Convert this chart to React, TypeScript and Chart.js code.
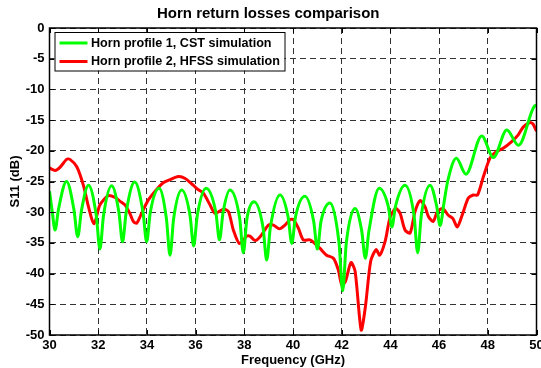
import React, { useEffect, useRef } from "react";
import { Chart, registerables } from "chart.js";

Chart.register(...registerables);

const TITLE = "Horn return losses comparison";
const X_LABEL = "Frequency (GHz)";
const Y_LABEL = "S11 (dB)";
const SERIES_NAMES = ["Horn profile 1, CST simulation", "Horn profile 2, HFSS simulation"];
const SERIES_COLORS = ["#00ff00", "#ff0000"];

const greenFreq = [
  30.0, 30.1, 30.23, 30.37, 30.7, 31.0, 31.16, 31.31, 31.6, 31.92, 32.07, 32.22, 32.55,
  32.85, 33.0, 33.15, 33.5, 33.84, 33.99, 34.14, 34.5, 34.8, 34.95, 35.1, 35.43, 35.77,
  35.92, 36.07, 36.43, 36.83, 36.98, 37.13, 37.41, 37.81, 37.96, 38.11, 38.4, 38.77,
  38.92, 39.07, 39.47, 39.8, 39.95, 40.1, 40.49, 40.85, 41.0, 41.15, 41.52, 41.89, 42.04,
  42.19, 42.55, 42.82, 42.97, 43.12, 43.54, 43.91, 44.06, 44.21, 44.6, 44.97, 45.12,
  45.27, 45.63, 45.9, 46.04, 46.2, 46.35, 46.71, 47.1, 47.75, 48.23, 48.78, 49.26, 49.9, 50.0,
];
const greenS11 = [
  -26.6, -29.5, -32.9, -29.5, -25.0, -29.5, -34.0, -29.8, -25.6, -30.5, -36.0, -30.5, -25.7,
  -30.0, -34.8, -30.0, -25.1, -30.0, -34.8, -30.0, -26.1, -31.0, -37.0, -31.0, -26.4, -30.5,
  -35.5, -30.5, -26.1, -30.0, -34.5, -30.0, -26.4, -31.0, -36.6, -31.0, -28.3, -32.5,
  -37.8, -32.5, -27.2, -30.8, -35.1, -30.8, -27.4, -31.5, -36.0, -31.5, -28.5, -35.0, -42.8,
  -35.0, -29.4, -33.0, -37.5, -33.0, -26.1, -29.0, -32.4, -29.0, -25.6, -30.5, -36.6,
  -30.5, -25.6, -29.0, -32.2, -28.5, -25.0, -21.2, -23.8, -17.6, -21.1, -16.6, -19.1, -12.8, -12.6,
];

const redFreq = [
  30.0, 30.23, 30.43, 30.7, 30.84, 31.12, 31.39, 31.6, 31.83, 32.07, 32.42, 32.69, 32.89,
  33.1, 33.3, 33.44, 33.58, 33.78, 34.06, 34.4, 34.67, 34.95, 35.29, 35.57, 35.9, 36.1,
  36.32, 36.59, 36.8, 37.14, 37.35, 37.55, 37.8, 38.1, 38.23, 38.44, 38.65, 38.99, 39.2,
  39.44, 39.67, 39.88, 40.01, 40.22, 40.42, 40.7, 40.9, 41.11, 41.38, 41.66, 41.86, 42.0,
  42.15, 42.38, 42.55, 42.8, 42.97, 43.19, 43.41, 43.56, 43.78, 43.99, 44.22, 44.4, 44.6,
  44.81, 45.01, 45.22, 45.42, 45.56, 45.76, 45.93, 46.15, 46.38, 46.56, 46.75, 46.97, 47.2,
  47.4, 47.58, 47.82, 48.09, 48.36, 48.63, 48.98, 49.25, 49.46, 49.73, 49.85, 50.0,
];
const redS11 = [
  -22.8, -23.2, -22.7, -21.4, -21.4, -22.6, -25.6, -29.1, -31.9, -28.8, -27.3, -27.6, -28.2,
  -28.8, -30.2, -31.5, -31.8, -30.2, -28.0, -26.3, -25.2, -24.7, -24.2, -24.5, -25.6, -26.3,
  -26.9, -28.8, -30.2, -29.5, -29.9, -32.9, -35.1, -33.9, -33.9, -34.6, -34.0, -32.1, -32.1,
  -32.7, -32.1, -31.2, -31.2, -32.6, -34.5, -34.5, -35.1, -35.9, -37.0, -37.5, -39.4, -41.8,
  -41.3, -38.2, -39.6, -49.2, -45.5, -38.0, -36.1, -37.0, -34.8, -30.8, -29.4, -30.2, -32.9,
  -33.4, -29.9, -28.1, -29.1, -30.7, -31.5, -29.9, -29.4, -30.5, -31.0, -32.4, -30.2, -27.7,
  -27.2, -27.2, -24.2, -21.2, -20.1, -19.6, -18.5, -17.4, -16.1, -15.4, -15.6, -16.8,
];

const X_MIN = 30;
const X_MAX = 50;
const X_STEP = 2;
const Y_MIN = -50;
const Y_MAX = 0;
const Y_STEP = 5;

const FONT = '"Liberation Sans", Arial, Helvetica, sans-serif';

const decorPlugin = {
  id: "decor",
  afterDatasetsDraw(chart: any) {
    const { ctx, chartArea: a, scales } = chart;
    const xs = scales.x;
    const ys = scales.y;
    ctx.save();
    ctx.setLineDash([]);
    ctx.strokeStyle = "#000";
    ctx.lineWidth = 1;
    ctx.beginPath();
    xs.ticks.forEach((t: any) => {
      const px = Math.round(xs.getPixelForValue(t.value)) + 0.5;
      ctx.moveTo(px, a.bottom);
      ctx.lineTo(px, a.bottom - 5);
      ctx.moveTo(px, a.top);
      ctx.lineTo(px, a.top + 5);
    });
    ys.ticks.forEach((t: any) => {
      const py = Math.round(ys.getPixelForValue(t.value)) + 0.5;
      ctx.moveTo(a.left, py);
      ctx.lineTo(a.left + 5, py);
      ctx.moveTo(a.right, py);
      ctx.lineTo(a.right - 5, py);
    });
    ctx.stroke();
    ctx.lineWidth = 1.5;
    ctx.strokeRect(a.left, a.top, a.right - a.left, a.bottom - a.top);

    // legend box inside the plot, top-left
    const bx = a.left + 5;
    const by = a.top + 4;
    const bw = 230;
    const bh = 38.5;
    ctx.fillStyle = "#fff";
    ctx.fillRect(bx, by, bw, bh);
    ctx.lineWidth = 1;
    ctx.strokeRect(bx + 0.5, by + 0.5, bw, bh);
    ctx.font = `bold 12.6px ${FONT}`;
    ctx.textBaseline = "middle";
    ctx.textAlign = "left";
    chart.data.datasets.forEach((ds: any, i: number) => {
      const ly = by + 11 + i * 18.5;
      ctx.strokeStyle = ds.borderColor;
      ctx.lineWidth = 3;
      ctx.beginPath();
      ctx.moveTo(bx + 5, ly);
      ctx.lineTo(bx + 33, ly);
      ctx.stroke();
      ctx.fillStyle = "#000";
      ctx.fillText(ds.label, bx + 36.5, ly + 0.5);
    });
    ctx.restore();
  },
};

export default function App() {
  const canvasRef = useRef<HTMLCanvasElement | null>(null);

  useEffect(() => {
    const canvas = canvasRef.current;
    if (!canvas) return;
    const green = greenFreq.map((f, i) => ({ x: f, y: greenS11[i] }));
    const red = redFreq.map((f, i) => ({ x: f, y: redS11[i] }));
    const gridOpts = {
      color: "#333",
      lineWidth: 1,
      drawTicks: false,
      borderDash: [6, 4],
    };
    const chart = new Chart(canvas, {
      type: "line",
      data: {
        datasets: [
          {
            label: SERIES_NAMES[0],
            data: green,
            borderColor: SERIES_COLORS[0],
            backgroundColor: SERIES_COLORS[0],
            borderWidth: 3,
            pointRadius: 0,
            cubicInterpolationMode: "monotone",
            fill: false,
          },
          {
            label: SERIES_NAMES[1],
            data: red,
            borderColor: SERIES_COLORS[1],
            backgroundColor: SERIES_COLORS[1],
            borderWidth: 3,
            pointRadius: 0,
            tension: 0.25,
            fill: false,
          },
        ],
      },
      options: {
        responsive: false,
        animation: false,
        events: [],
        layout: { padding: { left: 0, right: 4.5, top: 0, bottom: 0 } },
        plugins: {
          legend: { display: false },
          tooltip: { enabled: false },
          title: {
            display: true,
            text: TITLE,
            color: "#000",
            font: { family: FONT, size: 15, weight: "bold" },
            padding: { top: 5, bottom: 5 },
          },
        },
        scales: {
          x: {
            type: "linear",
            min: X_MIN,
            max: X_MAX,
            grid: gridOpts,
            border: { display: false, dash: [6, 4] },
            ticks: {
              stepSize: X_STEP,
              color: "#000",
              padding: 3,
              maxRotation: 0,
              font: { family: FONT, size: 13, weight: "bold" },
            },
            title: {
              display: true,
              text: X_LABEL,
              color: "#000",
              font: { family: FONT, size: 13, weight: "bold" },
              padding: { top: 0, bottom: 0 },
            },
            afterFit: (s: any) => {
              s.height = 33;
              s.paddingRight = 0;
              s.paddingLeft = 0;
            },
          },
          y: {
            type: "linear",
            min: Y_MIN,
            max: Y_MAX,
            grid: gridOpts,
            border: { display: false, dash: [6, 4] },
            ticks: {
              stepSize: Y_STEP,
              color: "#000",
              padding: 5,
              font: { family: FONT, size: 13, weight: "bold" },
            },
            title: {
              display: true,
              text: Y_LABEL,
              color: "#000",
              font: { family: FONT, size: 13, weight: "bold" },
              padding: { top: 8, bottom: 0 },
            },
            afterFit: (s: any) => {
              s.width = 49.5;
            },
          },
        },
      },
      plugins: [decorPlugin],
    });
    return () => chart.destroy();
  }, []);

  return (
    <div style={{ position: "absolute", left: 0, top: 0, width: 541, height: 368, background: "#fff" }}>
      <canvas ref={canvasRef} width={541} height={368} />
    </div>
  );
}
